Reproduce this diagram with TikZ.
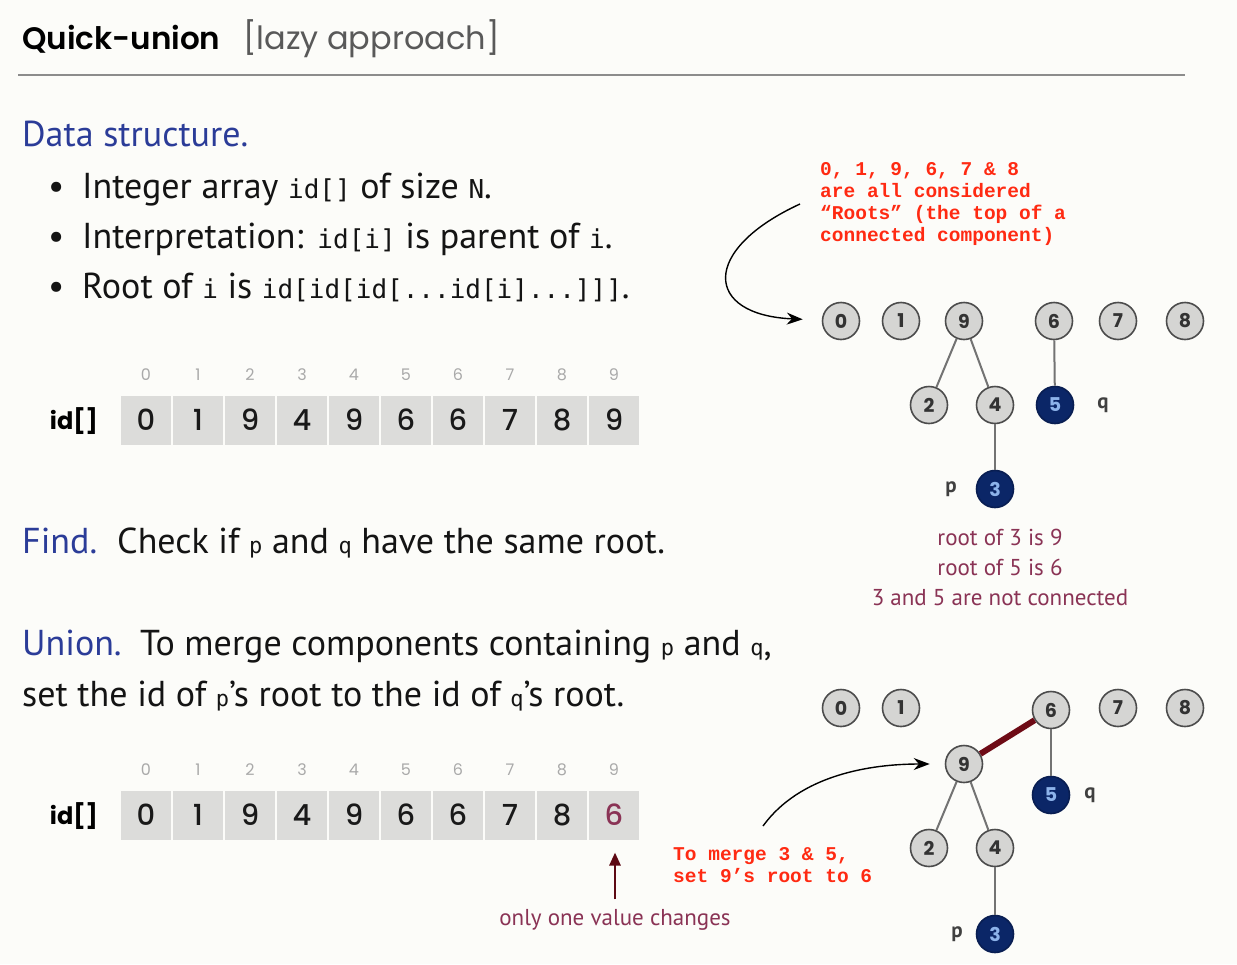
\documentclass[tikz,border=0pt]{standalone}
\usepackage{fontspec}
\setmainfont{PT Sans}
\setmonofont{DejaVu Sans Mono}
\newfontfamily\geofont{Poppins}
\newfontfamily\geomed{Poppins}[UprightFont={* Medium}]
\newfontfamily\geosemi{Poppins}[UprightFont={* SemiBold}]
\newfontfamily\notefont{Liberation Mono}
\usetikzlibrary{arrows.meta}

\definecolor{paper}{HTML}{FCFCF9}
\definecolor{headblue}{HTML}{2B3C98}
\definecolor{cellgray}{HTML}{DCDCDA}
\definecolor{idxgray}{HTML}{A9A9A9}
\definecolor{nodegray}{HTML}{D5D5D3}
\definecolor{rootblue}{HTML}{0B2667}
\definecolor{digitblue}{HTML}{8DB3EA}
\definecolor{wine}{HTML}{8A3355}
\definecolor{linkred}{HTML}{6E0B16}
\definecolor{notered}{HTML}{FF2A12}

% inline code and inline variable names
\newcommand\codetxt[1]{{\ttfamily\fontsize{26}{30}\selectfont #1}}
\newcommand\varpq[1]{{\ttfamily\fontsize{22}{30}\selectfont #1}}
\newcommand\apos{{\char"27}}

\begin{document}
\begin{tikzpicture}[x=1pt,y=-1pt,
  body/.style={anchor=base west, inner sep=0pt, font=\fontsize{36}{40}\selectfont, text=black!92},
  head/.style={body, text=headblue},
  cell/.style={fill=cellgray, draw=paper, line width=2pt, minimum width=52pt,
    minimum height=51pt, inner sep=0pt, font=\geomed\fontsize{29}{29}\selectfont, text=black!90},
  idx/.style={inner sep=0pt, font=\geofont\fontsize{16}{16}\selectfont, text=idxgray},
  arrlabel/.style={anchor=base east, inner sep=0pt, font=\geofont\bfseries\fontsize{24}{24}\selectfont},
  tn/.style={circle, fill=nodegray, draw=black!70, line width=1.6pt, minimum size=37pt,
    inner sep=0pt, font=\geofont\bfseries\fontsize{19}{19}\selectfont, text=black!80},
  tnq/.style={tn, fill=rootblue, draw=rootblue!80!black, text=digitblue},
  edge/.style={draw=black!55, line width=2pt},
  link/.style={draw=linkred, line width=6pt},
  pq/.style={inner sep=0pt, font=\bfseries\fontsize{21}{21}\selectfont, text=black!75},
  note/.style={anchor=base west, inner sep=0pt, font=\notefont\bfseries\fontsize{19.5}{22}\selectfont, text=notered},
  comment/.style={inner sep=0pt, font=\fontsize{23}{23}\selectfont, text=wine},
  curve/.style={draw=black, line width=1.4pt, -{Stealth[length=16pt,width=12pt]}},
]
\fill[paper] (0,0) rectangle (1237,964);
\useasboundingbox (0,0) rectangle (1237,964);

% title and rule
\node[anchor=base west, inner sep=0pt, font=\geosemi\fontsize{31}{36}\selectfont] (title) at (22,49)
  {Quick-union};
\node[anchor=base west, inner sep=0pt, font=\geofont\fontsize{32}{36}\selectfont, text=black!65] (subtitle) at (243,49)
  {[lazy approach]};
\draw[black!45, line width=2.5pt] (18,75) -- (1185,75);

% data structure description
\node[head] (ds) at (22,146) {Data structure.};
\foreach \y/\t [count=\k] in {
  198/{Integer array \codetxt{id[]} of size \codetxt{N}.},
  248/{Interpretation:\hspace{14pt}\codetxt{id[i]} is parent of \codetxt{i}.},
  298/{Root of \codetxt{i} is \codetxt{id[id[id[...id[i]...]]]}.}} {
  \node[body] (bul\k) at (48,\y) {\textbullet};
  \node[body] (line\k) at (82,\y) {\t};
}

% array before union
\node[arrlabel] (idlab1) at (98,429) {id[]};
\foreach \v [count=\i from 0] in {0,1,9,4,9,6,6,7,8,9} {
  \node[cell] (ua\i) at (146+52*\i,420) {\v};
  \node[idx] (ui\i) at (146+52*\i,375) {\i};
}

% find
\node[head] (find) at (22,553) {Find.};
\node[body] (findtxt) at (117,553) {Check if \varpq{p} and \varpq{q} have the same root.};

% union
\node[head] (union) at (22,655) {Union.};
\node[body] (uniontxt) at (140,655) {To merge components containing \varpq{p} and \varpq{q},};
\node[body] (uniontxt2) at (22,706) {set the id of \varpq{p}\apos s root to the id of \varpq{q}\apos s root.};

% array after union
\node[arrlabel] (idlab2) at (98,824) {id[]};
\foreach \v [count=\i from 0] in {0,1,9,4,9,6,6,7,8} {
  \node[cell] (sa\i) at (146+52*\i,815) {\v};
}
\node[cell, text=wine] (sa9) at (614,815) {6};
\foreach \i in {0,...,9} {
  \node[idx] (si\i) at (146+52*\i,770) {\i};
}
\node[comment] (chg) at (615,920) {only one value changes};
\draw[draw=linkred!85!black, line width=2.6pt, -{Triangle[length=13pt,width=11pt]},
  shorten <=0pt, shorten >=11pt]
  ([yshift=10pt]chg.north) -- (chg.north |- sa9.south);

% forest before union
\node[tn] (t0) at (841,321) {0};
\node[tn] (t1) at (901,321) {1};
\node[tn] (t9) at (964,321) {9};
\node[tn] (t6) at (1054,321) {6};
\node[tn] (t7) at (1118,321) {7};
\node[tn] (t8) at (1185,321) {8};
\node[tn] (t2) at (929,405) {2};
\node[tn] (t4) at (995,405) {4};
\node[tnq] (t5) at (1055,405) {5};
\node[tnq] (t3) at (995,489) {3};
\draw[edge] (t9) -- (t2);
\draw[edge] (t9) -- (t4);
\draw[edge] (t6) -- (t5);
\draw[edge] (t4) -- (t3);
\node[pq] (tq) at (1103,405) {q};
\node[pq] (tp) at (951,489) {p};

\node[comment] (r1) at (1000,537) {root of 3 is 9};
\node[comment] (r2) at (1000,567) {root of 5 is 6};
\node[comment] (r3) at (1000,598) {3 and 5 are not connected};

% note on roots
\node[note] (n1) at (820,175) {0, 1, 9, 6, 7 \& 8};
\node[note] (n2) at (820,197) {are all considered};
\node[note] (n3) at (820,219) {“Roots” (the top of a};
\node[note] (n4) at (820,241) {connected component)};
\coordinate (n1start) at (800,204);
\draw[curve, shorten >=19pt] (n1start) .. controls (700,250) and (704,315) .. (t0);

% forest after union
\node[tn] (s0) at (841,708) {0};
\node[tn] (s1) at (901,708) {1};
\node[tn] (s6) at (1051,710) {6};
\node[tn] (s7) at (1118,708) {7};
\node[tn] (s8) at (1185,708) {8};
\node[tn] (s9) at (964,764) {9};
\node[tnq] (s5) at (1051,795) {5};
\node[tn] (s2) at (929,848) {2};
\node[tn] (s4) at (995,848) {4};
\node[tnq] (s3) at (995,934) {3};
\draw[link] (s9) -- (s6);
\draw[edge] (s6) -- (s5);
\draw[edge] (s9) -- (s2);
\draw[edge] (s9) -- (s4);
\draw[edge] (s4) -- (s3);
\node[pq] (sq) at (1090,795) {q};
\node[pq] (sp) at (957,934) {p};

% note on the merge
\node[note] (m1) at (673,860) {To merge 3 \& 5,};
\node[note] (m2) at (673,882) {set 9’s root to 6};
\coordinate (m1start) at (763,826);
\draw[curve, shorten >=15pt] (m1start) .. controls (800,775) and (870,764) .. (s9);
\end{tikzpicture}
\end{document}
